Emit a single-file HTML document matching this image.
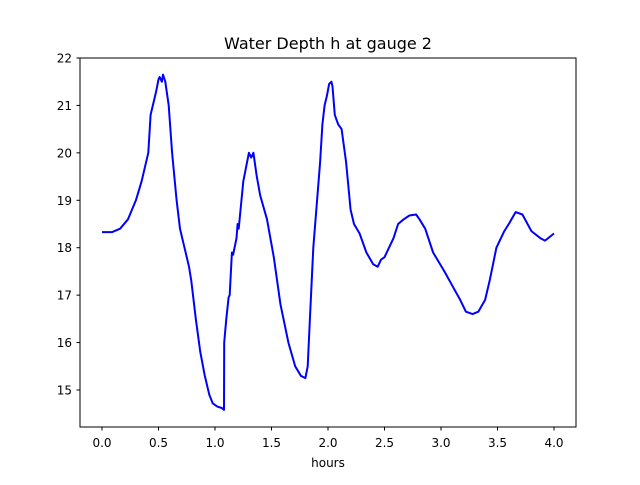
<!DOCTYPE html>
<html><head><meta charset="utf-8"><style>
body{margin:0;background:#fff;font-family:"Liberation Sans","DejaVu Sans",sans-serif;}
svg text{font-family:"DejaVu Sans","Liberation Sans",sans-serif;}
</style></head><body>
<svg id="chart" width="640" height="480" xmlns="http://www.w3.org/2000/svg">
<rect width="640" height="480" fill="#fff"/>
<text x="328" y="49" font-size="16" text-anchor="middle">Water Depth h at gauge 2</text>
<g id="ticks"></g>
<path id="line" fill="none" stroke="#0000ff" stroke-width="2" stroke-linejoin="round"/>
<rect x="80" y="58" width="496" height="369" fill="none" stroke="#000" stroke-width="1"/>
<text x="328" y="467" font-size="12" text-anchor="middle">hours</text>
</svg>
<script>
const hours=[0,0.09,0.16,0.23,0.30,0.35,0.41,0.43,0.47,0.48,0.50,0.51,0.53,0.54,0.56,0.59,0.62,0.66,0.69,0.73,0.77,0.79,0.83,0.87,0.91,0.95,0.98,1.02,1.06,1.08,1.081,1.10,1.12,1.13,1.15,1.16,1.19,1.20,1.21,1.25,1.30,1.32,1.34,1.37,1.40,1.46,1.52,1.58,1.65,1.71,1.76,1.80,1.82,1.84,1.87,1.90,1.93,1.95,1.97,1.99,2.01,2.03,2.04,2.06,2.09,2.12,2.16,2.20,2.23,2.28,2.34,2.40,2.44,2.47,2.50,2.58,2.62,2.67,2.72,2.78,2.81,2.86,2.93,3.03,3.10,3.17,3.22,3.28,3.33,3.39,3.43,3.49,3.56,3.60,3.66,3.72,3.80,3.88,3.92,4.0];
const depth=[18.33,18.33,18.4,18.6,19.0,19.4,20.0,20.8,21.2,21.3,21.55,21.6,21.5,21.65,21.5,21.0,20.0,19.0,18.4,18.0,17.6,17.3,16.5,15.8,15.3,14.9,14.72,14.65,14.62,14.58,16.0,16.5,16.95,17.0,17.9,17.85,18.2,18.5,18.4,19.4,20.0,19.9,20.0,19.5,19.1,18.6,17.8,16.8,16.0,15.5,15.3,15.25,15.5,16.5,18.0,18.9,19.8,20.6,21.0,21.2,21.45,21.5,21.4,20.8,20.6,20.5,19.8,18.8,18.5,18.3,17.9,17.65,17.6,17.75,17.8,18.2,18.5,18.6,18.68,18.7,18.6,18.4,17.9,17.5,17.2,16.9,16.65,16.6,16.65,16.9,17.3,18.0,18.35,18.5,18.75,18.7,18.35,18.2,18.15,18.3];
const xTicks=[0,0.5,1,1.5,2,2.5,3,3.5,4];
const yTicks=[15,16,17,18,19,20,21,22];
const X=v=>102+v*113;
const Y=v=>390-(v-15)*47.43;
document.getElementById('line').setAttribute('d',hours.map((h,i)=>(i?'L':'M')+X(h).toFixed(1)+' '+Y(depth[i]).toFixed(1)).join(' '));
const g=document.getElementById('ticks');const ns='http://www.w3.org/2000/svg';
xTicks.forEach(t=>{const l=document.createElementNS(ns,'line');


l.setAttribute('x1',X(t));l.setAttribute('x2',X(t));l.setAttribute('y1',427);l.setAttribute('y2',430.5);l.setAttribute('stroke','#000');g.appendChild(l);
const s=document.createElementNS(ns,'text');


s.setAttribute('x',X(t));s.setAttribute('y',447);s.setAttribute('font-size','12');s.setAttribute('text-anchor','middle');s.textContent=t.toFixed(1);g.appendChild(s);});
yTicks.forEach(t=>{const l=document.createElementNS(ns,'line');


l.setAttribute('x1',76.5);l.setAttribute('x2',80);l.setAttribute('y1',Y(t));l.setAttribute('y2',Y(t));l.setAttribute('stroke','#000');g.appendChild(l);
const s=document.createElementNS(ns,'text');


s.setAttribute('x',72);s.setAttribute('y',Y(t)+4.5);s.setAttribute('font-size','12');s.setAttribute('text-anchor','end');s.textContent=t;g.appendChild(s);});
</script>
</body></html>
